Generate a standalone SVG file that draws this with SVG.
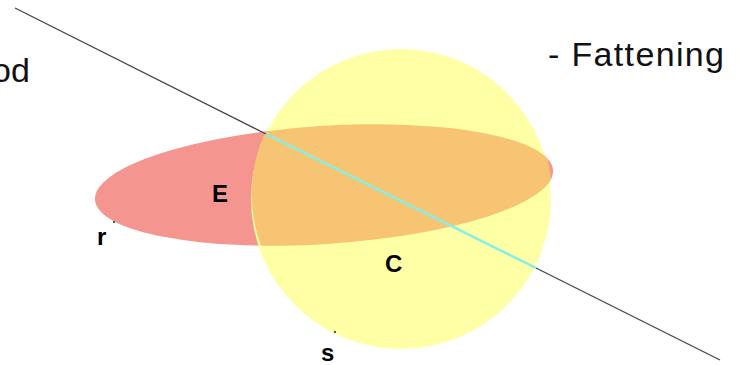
<svg xmlns="http://www.w3.org/2000/svg" width="737" height="365" viewBox="0 0 737 365">
<style>
.lbl{font-family:"Liberation Sans",Arial,sans-serif;font-weight:bold;font-size:24px;fill:#000}
.big{font-family:"Liberation Sans",Arial,sans-serif;font-size:34px;fill:#111}
</style>
<defs>
<clipPath id="cc"><circle cx="401" cy="199" r="150"/></clipPath>
</defs>
<rect width="737" height="365" fill="#fff"/>
<text class="big" x="-8" y="82">od</text>
<text class="big" x="548" y="66" textLength="176">- Fattening</text>
<g id="ellipseE"><ellipse cx="324" cy="185" rx="229.5" ry="59" transform="rotate(-3.7 324 185)" fill="#f4968f"/></g>
<g id="circleC"><circle cx="401" cy="199" r="150" fill="#ffffa6"/>
<ellipse cx="324" cy="185" rx="229.5" ry="59" transform="rotate(-3.7 324 185)" fill="#f7c473" clip-path="url(#cc)"/></g>
<g id="connectors">
<line x1="15" y1="8" x2="266" y2="134" stroke="#444" stroke-width="1.3"/>
<line x1="536" y1="268" x2="720" y2="360" stroke="#444" stroke-width="1.3"/>
<line x1="266" y1="134" x2="536" y2="268" stroke="#7ff0ea" stroke-width="2.5"/>
<circle cx="114" cy="222" r="1" fill="#222"/>
<circle cx="335" cy="332" r="1" fill="#222"/>
</g>
<text class="lbl" x="212" y="202">E</text>
<text class="lbl" x="385" y="272">C</text>
<text class="lbl" x="97" y="245">r</text>
<text class="lbl" x="321" y="361">s</text>
</svg>
